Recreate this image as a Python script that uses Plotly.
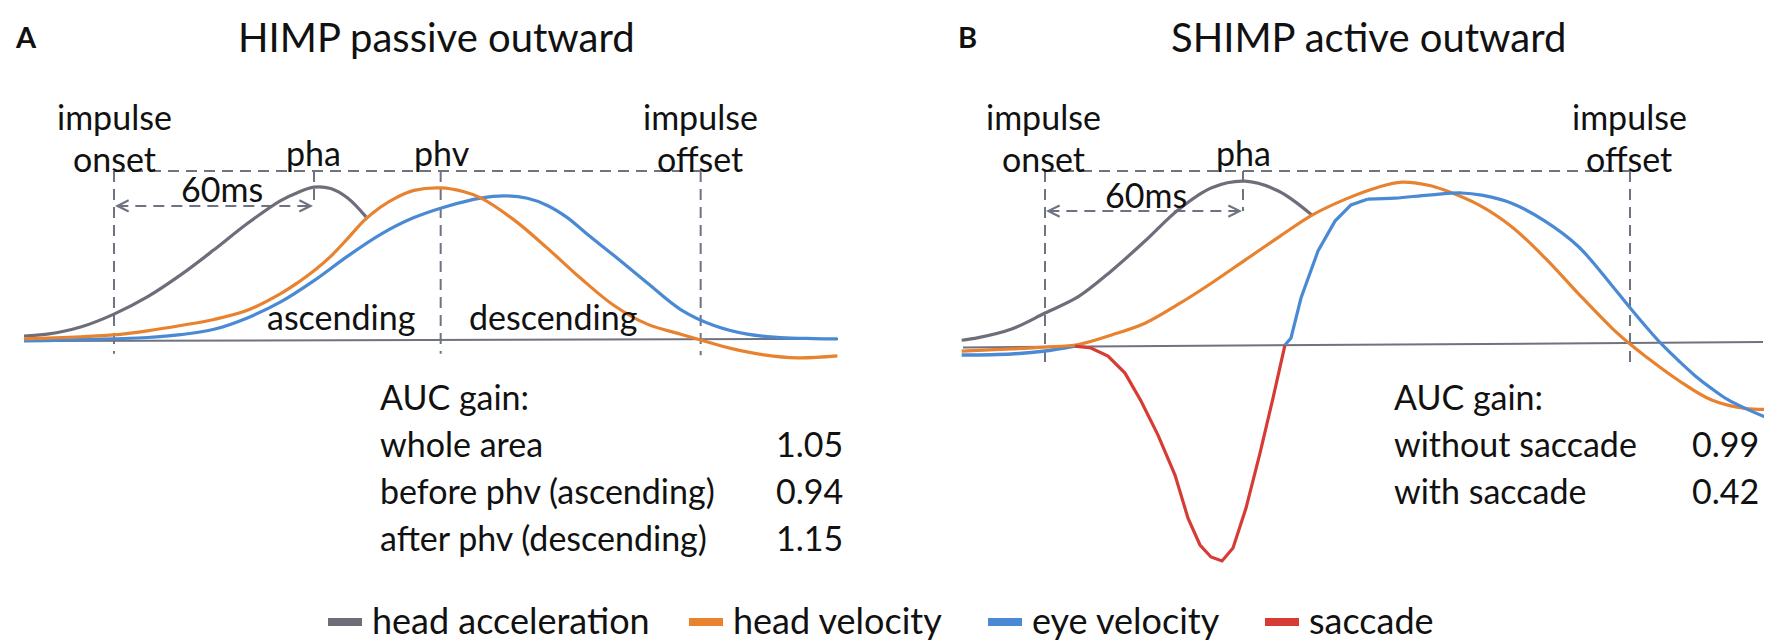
import plotly.graph_objects as go

W, H = 1772, 644
FONT = "Lato"

C_ACC = "#6e6e7a"
C_HV = "#e8822f"
C_EV = "#4a8ad4"
C_SAC = "#d63c34"
C_GUIDE = "#6f7280"

# ---------------- Panel A: HIMP passive outward (time ms from impulse onset) -------------
a_acc_t = [-27, -20, -10, 0, 10, 20, 30, 40, 50, 55, 60, 65, 70, 75.6]
a_acc_v = [2.6, 3.8, 8.5, 17, 28.3, 42.8, 59.3, 76.6, 91.7, 96.9, 100.5, 99.6, 93.5, 81]

a_hv_t = [-27, -20, -10, 0, 10, 20, 30, 40, 50, 55, 60, 65, 70, 75, 80, 85, 90, 98, 105,
          110, 120, 130, 140, 150, 160, 170, 176, 185, 195, 205, 217]
a_hv_v = [0.7, 1.2, 2.1, 3.3, 6, 9.5, 13.5, 19.5, 30.5, 37.5, 45.5, 55, 66.5, 78.5, 87.5,
          94, 98.4, 100, 97.5, 93.5, 79, 60.4, 40.6, 22.7, 10.4, 3.8, 0, -5.5, -9.8,
          -11.8, -10.5]

a_ev_t = [-27, -20, -10, 0, 10, 20, 30, 40, 50, 60, 70, 80, 90, 100, 110, 117, 124, 130,
          136, 142, 150, 160, 170, 180, 190, 200, 210, 217]
a_ev_v = [-0.7, -0.4, 0.2, 0.8, 1.6, 3.5, 7, 14.5, 25, 39, 55, 69.5, 80.5, 88, 93.3, 94.8,
          93.2, 88.5, 80.5, 69.5, 55.5, 37.5, 20, 9.5, 3.8, 1.5, 0.9, 0.7]

a_base_t = [-25.2, 217.2]
a_base_v = [-0.7, 0.7]

a_onset, a_pha, a_phv, a_offset = 0, 60, 98, 176
a_top_v, a_arrow_v, a_bottom_v = 111.2, 88.2, -9

# ---------------- Panel B: SHIMP active outward ----------------
b_acc_t = [-25, -20, -10, 0, 10, 20, 30, 40, 50, 60, 70, 80]
b_acc_v = [3.8, 5.5, 11.2, 21.7, 32.5, 49.6, 69.1, 89.7, 104.2, 108.5, 102, 86.3]

b_hv_t = [-25, -10, 0, 10, 20, 30, 40, 50, 60, 70, 80, 90, 100, 107, 115, 120, 130, 140,
          150, 160, 170, 175.5, 180, 190, 200, 210, 219]
b_hv_v = [-3.3, -1.9, -0.7, 1.0, 7.3, 15, 27.5, 41.5, 56.5, 71.5, 86, 96.5, 104.5, 107.8,
          105.8, 102.5, 93, 78.5, 58, 34.5, 12, 1.3, -6.5, -22.5, -35.5, -41, -41.5]

b_ev_pre_t = [-25, -10, 0, 9.0]
b_ev_pre_v = [-5.9, -5.2, -3.3, 0]

b_sac_t = [9.0, 13.8, 18.9, 24.0, 28.8, 33.9, 39.0, 42.9, 46.5, 49.8, 53.1, 56.4,
           60.3, 64.5, 68.4, 72.0]
b_sac_v = [0, -1.3, -6.6, -17.8, -36.2, -58.6, -84.9, -113.2, -130.9, -138.8, -141.4,
           -132.9, -106.6, -70.4, -34.2, 0.7]

b_ev_rise_t = [72.0, 73.8, 76.8, 81.9, 87.0, 91.8, 96.9]
b_ev_rise_v = [0.7, 5.3, 31.6, 62.5, 82.2, 92.8, 96.7]

b_ev_fall_t = [96.9, 105, 115, 125, 131, 140, 150, 160, 170, 175.5, 180, 185, 190, 195,
               200, 205, 210, 219]
b_ev_fall_v = [96.7, 97.3, 99.3, 100.7, 99.3, 94, 82.2, 65.5, 40, 25.2, 13.5, 1.2, -9.5,
               -19.5, -28, -35.5, -41, -49.3]

b_base_t = [-24.6, 215.4]
b_base_v = [-0.9, 2.6]

b_onset, b_pha, b_offset = 0, 59.4, 175.5
b_top_v, b_arrow_v, b_bottom_v = 115.1, 88.8, -11

titles = ["HIMP passive outward", "SHIMP active outward"]
panel_letters = ["A", "B"]
auc_a_labels = ["whole area", "before phv (ascending)", "after phv (descending)"]
auc_a_values = ["1.05", "0.94", "1.15"]
auc_b_labels = ["without saccade", "with saccade"]
auc_b_values = ["0.99", "0.42"]
legend_labels = ["head acceleration", "head velocity", "eye velocity", "saccade"]
legend_colors = [C_ACC, C_HV, C_EV, C_SAC]

fig = go.Figure()


def line(x, y, color, width=3.2, shape="spline", dash=None, xa="x", ya="y"):
    fig.add_trace(go.Scatter(
        x=x, y=y, mode="lines", xaxis=xa, yaxis=ya, hoverinfo="skip", showlegend=False,
        line=dict(color=color, width=width, shape=shape, dash=dash, smoothing=1.0)))


DASH = "11px,7px"

for xa, ya, onset, pha, offset, top, arr, bot, extra in [
        ("x", "y", a_onset, a_pha, a_offset, a_top_v, a_arrow_v, a_bottom_v, [a_phv]),
        ("x2", "y2", b_onset, b_pha, b_offset, b_top_v, b_arrow_v, b_bottom_v, [])]:
    line([onset, offset], [top, top], C_GUIDE, 2, "linear", DASH, xa, ya)
    line([onset, onset], [top, bot], C_GUIDE, 2, "linear", DASH, xa, ya)
    line([offset, offset], [top, bot - 1], C_GUIDE, 2, "linear", DASH, xa, ya)
    for e in extra:
        line([e, e], [top, bot], C_GUIDE, 2, "linear", DASH, xa, ya)
    line([pha, pha], [top, arr], C_GUIDE, 2, "linear", DASH, xa, ya)
    line([onset + 1, pha - 1], [arr, arr], C_GUIDE, 2, "linear", DASH, xa, ya)
    for tip, tail in [(onset + 0.3, onset + 4), (pha - 0.3, pha - 4)]:
        fig.add_annotation(x=tip, y=arr, ax=tail, ay=arr, xref=xa, yref=ya,
                           axref=xa, ayref=ya, text="", showarrow=True,
                           arrowhead=5, arrowsize=1.1, arrowwidth=2, arrowcolor=C_GUIDE)

# baselines
line(a_base_t, a_base_v, C_GUIDE, 2, "linear")
line(b_base_t, b_base_v, C_GUIDE, 2, "linear", xa="x2", ya="y2")

# Panel A curves
line(a_acc_t, a_acc_v, C_ACC)
line(a_ev_t, a_ev_v, C_EV)
line(a_hv_t, a_hv_v, C_HV)

# Panel B curves
line(b_acc_t, b_acc_v, C_ACC, xa="x2", ya="y2")
line(b_ev_pre_t, b_ev_pre_v, C_EV, 3.6, xa="x2", ya="y2")
line(b_hv_t, b_hv_v, C_HV, xa="x2", ya="y2")
line(b_sac_t, b_sac_v, C_SAC, shape="linear", xa="x2", ya="y2")
line(b_ev_rise_t, b_ev_rise_v, C_EV, shape="linear", xa="x2", ya="y2")
line(b_ev_fall_t, b_ev_fall_v, C_EV, xa="x2", ya="y2")


def px(x):
    return x / W


def py(y):
    return 1 - y / H


def text(x, y, s, size=34, anchor="center", bold=False, color="#111111"):
    fig.add_annotation(x=px(x), y=py(y), xref="paper", yref="paper", text=s,
                       showarrow=False, xanchor=anchor, yanchor="middle",
                       font=dict(family=FONT, size=size, color=color,
                                 weight="bold" if bold else "normal"))


LBL = 34
# letters & titles
text(18, 29, panel_letters[0], 29, bold=True)
text(959, 29, panel_letters[1], 29, bold=True)
text(428, 29, titles[0], 40)
text(1360, 29, titles[1], 40)

# Panel A labels
text(106, 109, "impulse", LBL)
text(106, 150, "onset", LBL)
text(305, 145, "pha", LBL)
text(434, 144, "phv", LBL)
text(692, 109, "impulse", LBL)
text(692, 150, "offset", LBL)
text(214, 181, "60ms", LBL)
text(333, 308, "ascending", LBL)
text(545, 308, "descending", LBL)

# Panel B labels
text(1035, 109, "impulse", LBL)
text(1035, 150, "onset", LBL)
text(1235, 145, "pha", LBL)
text(1621, 109, "impulse", LBL)
text(1621, 150, "offset", LBL)
text(1138, 186, "60ms", LBL)

# AUC texts
AUC = 34
text(370, 388, "AUC gain:", AUC, "left")
for i, (lab, val) in enumerate(zip(auc_a_labels, auc_a_values)):
    yy = 435 + 47 * i
    text(370, yy, lab, AUC, "left")
    text(837, yy, val, AUC, "right")
text(1384, 388, "AUC gain:", AUC, "left")
for i, (lab, val) in enumerate(zip(auc_b_labels, auc_b_values)):
    yy = 435 + 47 * i
    text(1384, yy, lab, AUC, "left")
    text(1753, yy, val, AUC, "right")

# manual legend
leg_x = [320, 681, 980, 1257]
LEG_Y = 614
for x0, lab, col in zip(leg_x, legend_labels, legend_colors):
    fig.add_shape(type="rect", xref="paper", yref="paper",
                  x0=px(x0), x1=px(x0 + 34), y0=py(LEG_Y + 4), y1=py(LEG_Y - 4),
                  line=dict(width=0), fillcolor=col)
    text(x0 + 42, LEG_Y - 2, lab, 36, "left")

ax_common = dict(visible=False, showgrid=False, zeroline=False, fixedrange=True)
fig.update_layout(
    width=W, height=H, margin=dict(l=0, r=0, t=0, b=0),
    paper_bgcolor="white", plot_bgcolor="white", showlegend=False,
    xaxis=dict(domain=[0, 0.5], range=[-31.8, 234.0], **ax_common),
    yaxis=dict(domain=[0, 1], range=[-205.3, 218.4], **ax_common),
    xaxis2=dict(domain=[0.5, 1], range=[-45.3, 220.5], **ax_common),
    yaxis2=dict(domain=[0, 1], range=[-201.3, 222.4], anchor="x2", **ax_common),
)

fig.write_html("out.html")
